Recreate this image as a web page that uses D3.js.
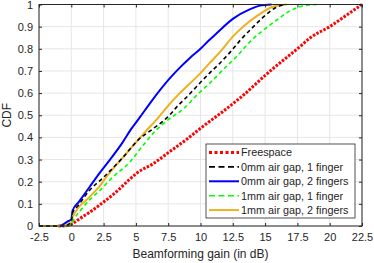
<!DOCTYPE html>
<html><head><meta charset="utf-8">
<script src="https://cdn.jsdelivr.net/npm/d3@7"></script>
<style>body{margin:0;background:#fff}svg{display:block}text{font-family:"Liberation Sans",Arial,sans-serif;fill:#262626}</style>
</head><body><svg id="c" width="374" height="263"></svg>
<script>
const xTicks = [-2.5,0,2.5,5,7.5,10,12.5,15,17.5,20,22.5];
const yTicks = [0,0.1,0.2,0.3,0.4,0.5,0.6,0.7,0.8,0.9,1];
const seriesNames = ["Freespace","0mm air gap, 1 finger","0mm air gap, 2 fingers","1mm air gap, 1 finger","1mm air gap, 2 fingers"];
const freespace = [[-1.0,0],[-0.3,0.002],[0.2,0.015],[0.7,0.035],[1.5,0.065],[2.2,0.095],[3.5,0.155],[4.5,0.21],[5.1,0.24],[6.3,0.28],[7.6,0.335],[8.9,0.39],[10.2,0.45],[11.8,0.52],[13.1,0.58],[15.4,0.70],[17.7,0.81],[18.5,0.85],[20,0.9],[21.5,0.96],[22.5,1.0]];
const gap0f1 = [[-2.5,0],[-0.5,0],[0,0.02],[0.1,0.06],[0.5,0.09],[1.4,0.16],[2.5,0.22],[4,0.31],[5.2,0.39],[6.35,0.44],[7.6,0.50],[8.2,0.54],[8.9,0.58],[9.7,0.63],[10.7,0.69],[11.5,0.735],[12.3,0.785],[13.1,0.84],[14.1,0.9],[14.9,0.945],[15.8,0.985],[16.5,1]];
const gap0f2 = [[-2.5,0],[-0.9,0],[-0.3,0.02],[0,0.03],[0.1,0.07],[0.6,0.11],[1.4,0.175],[2.2,0.24],[3.0,0.30],[4.0,0.38],[4.6,0.435],[5.3,0.49],[6.1,0.555],[7.6,0.665],[8.4,0.715],[9.2,0.76],[10,0.80],[10.6,0.835],[11.25,0.87],[12.5,0.935],[13.8,0.978],[14.6,0.995],[15.5,1]];
const gap1f1 = [[-2.5,0],[-0.3,0],[0,0.005],[0.2,0.03],[0.7,0.07],[1.45,0.12],[2.2,0.16],[3.2,0.22],[4.55,0.29],[5.5,0.36],[6.6,0.435],[7.5,0.48],[8.7,0.53],[9.7,0.59],[10.7,0.644],[12,0.72],[12.8,0.765],[13.8,0.83],[15.1,0.895],[15.9,0.93],[16.9,0.97],[17.7,0.99],[19,1]];
const gap1f2 = [[-2.5,0],[-0.6,0],[-0.2,0.01],[0,0.015],[0.1,0.04],[1.4,0.13],[2.2,0.18],[2.7,0.22],[4.0,0.31],[5.2,0.39],[5.8,0.43],[6.6,0.48],[7.6,0.55],[8.4,0.60],[9.2,0.645],[10,0.69],[10.7,0.735],[11.5,0.785],[12.5,0.855],[13.5,0.91],[14.3,0.945],[15.6,0.99],[16.7,1]];

const L=39,R=362,T=4.5,B=226;
const svg=d3.select("#c");
const x=d3.scaleLinear().domain([-2.5,22.5]).range([L,R]);
const y=d3.scaleLinear().domain([0,1]).range([B,T]);
const g=svg.append("g");
g.selectAll(".gx").data(xTicks).enter().append("line").attr("x1",d=>x(d)).attr("x2",d=>x(d)).attr("y1",T).attr("y2",B).attr("stroke","#e6e6e6").attr("stroke-width",1);
g.selectAll(".gy").data(yTicks).enter().append("line").attr("y1",d=>y(d)).attr("y2",d=>y(d)).attr("x1",L).attr("x2",R).attr("stroke","#e6e6e6").attr("stroke-width",1);

const styles=[
 {data:freespace,color:"#ff0000",w:3,dash:"2.5,1.5"},
 {data:gap0f1,color:"#000000",w:1.6,dash:"4,3"},
 {data:gap0f2,color:"#0000ff",w:2,dash:null},
 {data:gap1f1,color:"#00ff00",w:1.6,dash:"4,3"},
 {data:gap1f2,color:"#edb120",w:2,dash:null}
];
const line=d3.line().x(d=>x(d[0])).y(d=>y(d[1])).curve(d3.curveMonotoneX);
svg.append("clipPath").attr("id","cp").append("rect").attr("x",L).attr("y",T-2).attr("width",R-L+2).attr("height",B-T+4);
const lines=svg.append("g").attr("clip-path","url(#cp)");
[0,2,4,3,1].forEach(i=>{const s=styles[i];
 lines.append("path").attr("d",line(s.data)).attr("fill","none").attr("stroke",s.color).attr("stroke-width",s.w).attr("stroke-dasharray",s.dash).attr("stroke-linejoin","round");
});

const ax=svg.append("g");
const xa=d3.axisBottom(x).tickValues(xTicks).tickSize(-3).tickPadding(7).tickFormat(d=>d);
const xaT=d3.axisTop(x).tickValues(xTicks).tickSize(-3).tickFormat("");
const ya=d3.axisLeft(y).tickValues(yTicks).tickSize(-3).tickPadding(6).tickFormat(d=>d);
const yaR=d3.axisRight(y).tickValues(yTicks).tickSize(-3).tickFormat("");
function sty(sel){sel.selectAll("path,line").attr("stroke","#262626");sel.selectAll("text").style("font-size","11px").style("font-family","'Liberation Sans',Arial,sans-serif").attr("fill","#262626");}
ax.append("g").attr("transform",`translate(0,${B})`).call(xa).call(sty);
ax.append("g").attr("transform",`translate(0,${T})`).call(xaT).call(sty);
ax.append("g").attr("transform",`translate(${L},0)`).call(ya).call(sty);
ax.append("g").attr("transform",`translate(${R},0)`).call(yaR).call(sty);
svg.selectAll(".domain").attr("d",null);
svg.append("rect").attr("x",L).attr("y",T).attr("width",R-L).attr("height",B-T).attr("fill","none").attr("stroke","#262626").attr("stroke-width",1);

svg.append("text").attr("x",(L+R)/2).attr("y",258).attr("text-anchor","middle").style("font-size","12px").text("Beamforming gain (in dB)");
svg.append("text").attr("transform",`translate(11,${(T+B)/2}) rotate(-90)`).attr("text-anchor","middle").style("font-size","12px").text("CDF");

const lg=svg.append("g");
lg.append("rect").attr("x",206).attr("y",144).attr("width",149).attr("height",74).attr("fill","#fff").attr("stroke","#262626").attr("stroke-width",0.8);
seriesNames.forEach((n,i)=>{const s=styles[i];const yy=152.5+i*14.4;
 lg.append("line").attr("x1",209).attr("x2",239).attr("y1",yy).attr("y2",yy).attr("stroke",s.color).attr("stroke-width",s.w).attr("stroke-dasharray",i==0?"3,2.5":(s.dash?"6,3.5":null));
 lg.append("text").attr("x",241).attr("y",yy+3.8).style("font-size","10.8px").text(n);
});
</script></body></html>
